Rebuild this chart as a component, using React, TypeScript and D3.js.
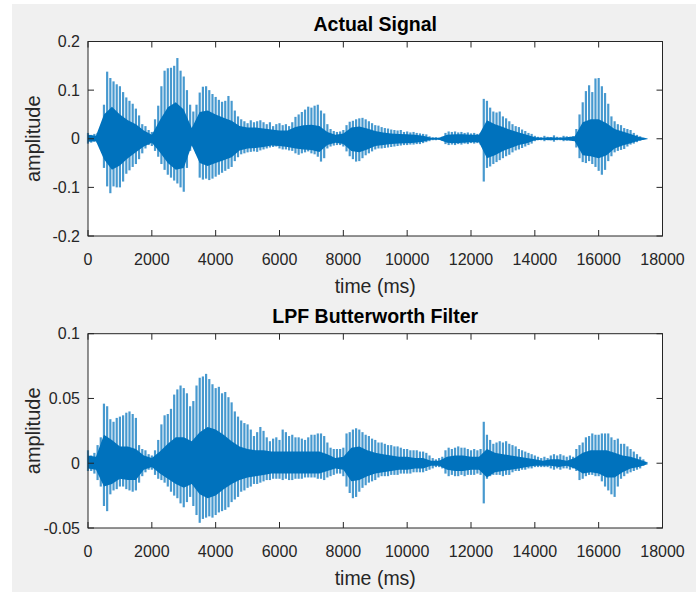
import React, { useEffect, useRef } from "react";
import * as d3 from "d3";

const width = 696;
const height = 592;
const plotLeft = 88;
const plotRight = 662.5;
const STEP = 100; // ms between spike envelope samples
const CORE_STEP = 250; // ms between dense-core envelope samples

const xTicks = [0, 2000, 4000, 6000, 8000, 10000, 12000, 14000, 16000, 18000];
const actualYTicks = [-0.2, -0.1, 0, 0.1, 0.2];
const lpfYTicks = [-0.05, 0, 0.05, 0.1];

// Actual Signal: peak envelope every 100 ms (0 .. 17500 ms)
const actualUpper = [
  0.012, 0.008, 0.01, 0.012, 0.015, 0.07, 0.138, 0.125, 0.118, 0.112,
  0.108, 0.096, 0.085, 0.078, 0.072, 0.062, 0.048, 0.03, 0.026, 0.018,
  0.014, 0.04, 0.068, 0.108, 0.14, 0.145, 0.146, 0.15, 0.166, 0.14,
  0.128, 0.1, 0.07, 0.056, 0.07, 0.095, 0.107, 0.108, 0.1, 0.092,
  0.086, 0.08, 0.076, 0.078, 0.088, 0.078, 0.058, 0.046, 0.04, 0.036,
  0.032, 0.038, 0.034, 0.036, 0.038, 0.034, 0.03, 0.034, 0.026, 0.03,
  0.032, 0.028, 0.03, 0.026, 0.034, 0.045, 0.05, 0.055, 0.06, 0.066,
  0.064, 0.068, 0.07, 0.058, 0.052, 0.03, 0.02, 0.016, 0.014, 0.015,
  0.018, 0.028, 0.035, 0.037, 0.04, 0.042, 0.043, 0.04, 0.036, 0.032,
  0.028, 0.027, 0.024, 0.022, 0.021, 0.019, 0.018, 0.017, 0.018, 0.014,
  0.015, 0.013, 0.014, 0.012, 0.011, 0.01, 0.009, 0.005, 0.003, 0.003,
  0.002, 0.004, 0.012, 0.015, 0.014, 0.015, 0.013, 0.014, 0.012, 0.013,
  0.011, 0.012, 0.01, 0.012, 0.082, 0.078, 0.064, 0.056, 0.054, 0.056,
  0.046, 0.042, 0.036, 0.03, 0.026, 0.024, 0.019, 0.016, 0.012, 0.01,
  0.006, 0.004, 0.003, 0.006, 0.004, 0.003, 0.007, 0.004, 0.003, 0.006,
  0.005, 0.004, 0.005, 0.02, 0.05, 0.075, 0.098, 0.11, 0.096, 0.124,
  0.125, 0.108, 0.094, 0.072, 0.046, 0.036, 0.03, 0.028, 0.022, 0.02,
  0.018, 0.012, 0.008, 0.005, 0.002, 0.001,
];
const actualLower = [
  -0.01, -0.008, -0.006, -0.008, -0.012, -0.06, -0.098, -0.112, -0.098, -0.1,
  -0.1, -0.088, -0.072, -0.065, -0.058, -0.052, -0.042, -0.03, -0.02, -0.013,
  -0.015, -0.025, -0.037, -0.052, -0.064, -0.074, -0.08, -0.086, -0.092, -0.1,
  -0.109, -0.06, -0.025, -0.012, -0.03, -0.08, -0.084, -0.082, -0.085, -0.082,
  -0.078, -0.074, -0.07, -0.066, -0.062, -0.058, -0.046, -0.038, -0.032, -0.03,
  -0.028, -0.027, -0.026, -0.027, -0.024, -0.022, -0.02, -0.018, -0.017, -0.016,
  -0.02, -0.022, -0.022, -0.024, -0.025, -0.03, -0.033, -0.03, -0.028, -0.026,
  -0.03, -0.032, -0.037, -0.047, -0.04, -0.02, -0.016, -0.014, -0.013, -0.013,
  -0.016, -0.026, -0.036, -0.042, -0.047, -0.046, -0.04, -0.034, -0.03, -0.026,
  -0.022, -0.02, -0.02, -0.019, -0.018, -0.017, -0.016, -0.015, -0.014, -0.013,
  -0.013, -0.012, -0.012, -0.011, -0.011, -0.009, -0.007, -0.005, -0.003, -0.003,
  -0.002, -0.004, -0.011, -0.013, -0.012, -0.013, -0.011, -0.012, -0.01, -0.011,
  -0.009, -0.01, -0.009, -0.012, -0.088, -0.06, -0.057, -0.052, -0.048, -0.044,
  -0.04, -0.036, -0.033, -0.028, -0.024, -0.022, -0.019, -0.016, -0.013, -0.01,
  -0.005, -0.003, -0.003, -0.005, -0.003, -0.003, -0.006, -0.003, -0.003, -0.005,
  -0.004, -0.003, -0.004, -0.018, -0.04, -0.048, -0.05, -0.046, -0.052, -0.058,
  -0.066, -0.074, -0.064, -0.046, -0.036, -0.028, -0.025, -0.023, -0.021, -0.016,
  -0.012, -0.01, -0.007, -0.004, -0.002, -0.001,
];
// dense core of the waveform, every 250 ms
const actualCoreUp = [
  0.008, 0.006, 0.05, 0.066, 0.05, 0.038, 0.03, 0.017, 0.008, 0.038,
  0.065, 0.075, 0.06, 0.022, 0.055, 0.058, 0.05, 0.043, 0.037, 0.026,
  0.023, 0.023, 0.021, 0.019, 0.017, 0.017, 0.024, 0.028, 0.029, 0.026,
  0.014, 0.008, 0.011, 0.023, 0.025, 0.021, 0.016, 0.013, 0.011, 0.01,
  0.009, 0.008, 0.006, 0.002, 0.002, 0.008, 0.009, 0.009, 0.008, 0.008,
  0.038, 0.03, 0.024, 0.018, 0.013, 0.008, 0.003, 0.002, 0.003, 0.002,
  0.003, 0.005, 0.034, 0.04, 0.04, 0.032, 0.02, 0.015, 0.01, 0.004,
  0.001,
];
const actualCoreLo = [
  -0.006, -0.005, -0.042, -0.064, -0.055, -0.04, -0.028, -0.016, -0.008, -0.028,
  -0.05, -0.064, -0.06, -0.014, -0.05, -0.056, -0.05, -0.044, -0.038, -0.024,
  -0.02, -0.019, -0.017, -0.014, -0.015, -0.017, -0.02, -0.022, -0.023, -0.027,
  -0.013, -0.008, -0.011, -0.025, -0.028, -0.022, -0.015, -0.013, -0.011, -0.01,
  -0.009, -0.008, -0.006, -0.002, -0.002, -0.008, -0.009, -0.008, -0.007, -0.007,
  -0.04, -0.034, -0.025, -0.019, -0.013, -0.009, -0.003, -0.002, -0.003, -0.002,
  -0.003, -0.005, -0.034, -0.036, -0.04, -0.034, -0.02, -0.014, -0.009, -0.004,
  -0.001,
];

// LPF Butterworth Filter output
const lpfUpper = [
  0.01, 0.006, 0.008, 0.014, 0.02, 0.046, 0.044, 0.034, 0.032, 0.035,
  0.036, 0.037, 0.039, 0.04, 0.038, 0.035, 0.014, 0.011, 0.01, 0.007,
  0.006, 0.01, 0.018, 0.03, 0.037, 0.038, 0.042, 0.053, 0.057, 0.06,
  0.058, 0.054, 0.044, 0.048, 0.06, 0.066, 0.067, 0.069, 0.065, 0.061,
  0.058, 0.059, 0.054, 0.055, 0.051, 0.047, 0.04, 0.036, 0.033, 0.031,
  0.03, 0.026, 0.021, 0.024, 0.028, 0.025, 0.02, 0.017, 0.019, 0.02,
  0.018, 0.026, 0.024, 0.021, 0.022, 0.02, 0.02, 0.019, 0.018, 0.02,
  0.022, 0.022, 0.023, 0.023, 0.021, 0.016, 0.012, 0.011, 0.011, 0.011,
  0.012, 0.023, 0.024, 0.026, 0.027, 0.026, 0.024, 0.022, 0.021, 0.019,
  0.018, 0.016, 0.016, 0.015, 0.014, 0.014, 0.013, 0.013, 0.012, 0.011,
  0.011, 0.01, 0.01, 0.01, 0.009, 0.009, 0.008, 0.006, 0.004, 0.003,
  0.004, 0.005, 0.01, 0.012, 0.011, 0.012, 0.013, 0.012, 0.012, 0.011,
  0.01, 0.011, 0.01, 0.011, 0.032, 0.022, 0.018, 0.015, 0.016, 0.017,
  0.016, 0.017, 0.015, 0.014, 0.013, 0.011, 0.01, 0.009, 0.008, 0.007,
  0.006, 0.005, 0.004, 0.005, 0.004, 0.006, 0.007, 0.006, 0.007, 0.006,
  0.005, 0.006, 0.005, 0.011, 0.014, 0.016, 0.02, 0.021, 0.023, 0.022,
  0.022, 0.023, 0.023, 0.023, 0.02, 0.018, 0.019, 0.015, 0.015, 0.013,
  0.011, 0.009, 0.007, 0.005, 0.003, 0.001,
];
const lpfLower = [
  -0.006, -0.006, -0.008, -0.013, -0.018, -0.033, -0.037, -0.024, -0.021, -0.02,
  -0.018, -0.018, -0.02, -0.021, -0.022, -0.021, -0.015, -0.01, -0.007, -0.005,
  -0.005, -0.009, -0.012, -0.013, -0.015, -0.018, -0.022, -0.025, -0.027, -0.031,
  -0.034, -0.03, -0.026, -0.033, -0.04, -0.046, -0.043, -0.042, -0.041, -0.042,
  -0.04, -0.038, -0.037, -0.036, -0.034, -0.03, -0.028, -0.026, -0.022, -0.021,
  -0.019, -0.018, -0.016, -0.016, -0.015, -0.014, -0.013, -0.013, -0.012, -0.012,
  -0.012, -0.013, -0.012, -0.013, -0.013, -0.012, -0.012, -0.012, -0.011, -0.011,
  -0.011, -0.011, -0.012, -0.012, -0.013, -0.011, -0.01, -0.009, -0.008, -0.008,
  -0.01, -0.018, -0.023, -0.027, -0.026, -0.022, -0.019, -0.017, -0.015, -0.014,
  -0.013, -0.011, -0.01, -0.01, -0.01, -0.009, -0.009, -0.009, -0.008, -0.008,
  -0.008, -0.008, -0.007, -0.007, -0.007, -0.007, -0.006, -0.005, -0.004, -0.003,
  -0.003, -0.004, -0.008, -0.01, -0.009, -0.01, -0.01, -0.009, -0.01, -0.009,
  -0.009, -0.009, -0.008, -0.009, -0.031, -0.012, -0.01, -0.009, -0.009, -0.009,
  -0.01, -0.009, -0.009, -0.007, -0.006, -0.006, -0.005, -0.005, -0.004, -0.004,
  -0.003, -0.003, -0.003, -0.003, -0.003, -0.004, -0.005, -0.004, -0.005, -0.004,
  -0.004, -0.005, -0.004, -0.006, -0.013, -0.012, -0.01, -0.009, -0.009, -0.01,
  -0.01, -0.014, -0.018, -0.021, -0.024, -0.026, -0.018, -0.012, -0.01, -0.008,
  -0.007, -0.006, -0.005, -0.004, -0.002, -0.001,
];
const lpfCoreUp = [
  0.006, 0.005, 0.022, 0.018, 0.013, 0.013, 0.011, 0.006, 0.004, 0.009,
  0.015, 0.02, 0.02, 0.017, 0.024, 0.028, 0.026, 0.022, 0.017, 0.013,
  0.011, 0.01, 0.01, 0.009, 0.009, 0.009, 0.009, 0.009, 0.009, 0.009,
  0.007, 0.004, 0.005, 0.012, 0.013, 0.01, 0.008, 0.007, 0.006, 0.005,
  0.005, 0.004, 0.004, 0.002, 0.002, 0.005, 0.006, 0.006, 0.005, 0.005,
  0.011, 0.008, 0.007, 0.006, 0.005, 0.004, 0.003, 0.002, 0.003, 0.003,
  0.002, 0.004, 0.008, 0.01, 0.01, 0.01, 0.008, 0.006, 0.005, 0.003,
  0.001,
];
const lpfCoreLo = [
  -0.004, -0.005, -0.018, -0.016, -0.012, -0.013, -0.013, -0.005, -0.003, -0.008,
  -0.012, -0.016, -0.019, -0.016, -0.024, -0.027, -0.025, -0.02, -0.016, -0.013,
  -0.011, -0.01, -0.009, -0.008, -0.008, -0.008, -0.008, -0.008, -0.008, -0.008,
  -0.006, -0.004, -0.005, -0.014, -0.013, -0.01, -0.008, -0.007, -0.006, -0.005,
  -0.005, -0.004, -0.004, -0.002, -0.002, -0.005, -0.006, -0.006, -0.005, -0.005,
  -0.011, -0.007, -0.006, -0.005, -0.004, -0.003, -0.002, -0.002, -0.002, -0.003,
  -0.002, -0.004, -0.008, -0.007, -0.008, -0.011, -0.011, -0.007, -0.004, -0.003,
  -0.001,
];

const panels = [
  {
    title: "Actual Signal",
    top: 41.5,
    bottom: 236,
    yDomain: [-0.2, 0.2],
    yTicks: actualYTicks,
    upper: actualUpper,
    lower: actualLower,
    coreUp: actualCoreUp,
    coreLo: actualCoreLo,
  },
  {
    title: "LPF Butterworth Filter",
    top: 333.7,
    bottom: 528,
    yDomain: [-0.05, 0.1],
    yTicks: lpfYTicks,
    upper: lpfUpper,
    lower: lpfLower,
    coreUp: lpfCoreUp,
    coreLo: lpfCoreLo,
  },
];

const font = "'Liberation Sans', Arial, Helvetica, sans-serif";
const axisColor = "#262626";
const lineColor = "#0072BD";

export default function App() {
  const ref = useRef<SVGSVGElement>(null);

  useEffect(() => {
    const svg = d3.select(ref.current);
    svg.selectAll("*").remove();

    svg.append("rect").attr("width", width).attr("height", height).attr("fill", "#fff");
    svg
      .append("rect")
      .attr("x", 12)
      .attr("y", 4)
      .attr("width", width - 12)
      .attr("height", height - 4)
      .attr("fill", "#f0f0f0");

    const x = d3.scaleLinear().domain([0, 18000]).range([plotLeft, plotRight]);

    panels.forEach(p => {
      const y = d3.scaleLinear().domain(p.yDomain).range([p.bottom, p.top]);
      const g = svg.append("g");

      g.append("rect")
        .attr("x", plotLeft)
        .attr("y", p.top)
        .attr("width", plotRight - plotLeft)
        .attr("height", p.bottom - p.top)
        .attr("fill", "#fff");

      // light spikes reaching the peak envelope
      g.append("g")
        .attr("stroke", lineColor)
        .attr("stroke-opacity", 0.72)
        .attr("stroke-width", 2.2)
        .selectAll("line")
        .data(p.upper)
        .join("line")
        .attr("x1", (d, i) => x(i * STEP))
        .attr("x2", (d, i) => x(i * STEP))
        .attr("y1", d => y(d))
        .attr("y2", (d, i) => y(p.lower[i]));

      // dense dark core
      const core = d3
        .area<number>()
        .x((d, i) => x(i * CORE_STEP))
        .y0((d, i) => y(p.coreLo[i]))
        .y1(d => y(d));
      g.append("path").datum(p.coreUp).attr("d", core).attr("fill", lineColor);

      // box
      g.append("rect")
        .attr("x", plotLeft)
        .attr("y", p.top)
        .attr("width", plotRight - plotLeft)
        .attr("height", p.bottom - p.top)
        .attr("fill", "none")
        .attr("stroke", axisColor)
        .attr("stroke-width", 1);

      // ticks on all four sides, pointing inward
      const tl = 6;
      g.append("g")
        .attr("stroke", axisColor)
        .selectAll("path")
        .data(xTicks)
        .join("path")
        .attr("d", d => `M${x(d)},${p.bottom}v${-tl}M${x(d)},${p.top}v${tl}`);
      g.append("g")
        .attr("stroke", axisColor)
        .selectAll("path")
        .data(p.yTicks)
        .join("path")
        .attr("d", d => `M${plotLeft},${y(d)}h${tl}M${plotRight},${y(d)}h${-tl}`);

      g.append("g")
        .attr("font-family", font)
        .attr("font-size", 16)
        .attr("fill", axisColor)
        .attr("text-anchor", "middle")
        .selectAll("text")
        .data(xTicks)
        .join("text")
        .attr("x", d => x(d))
        .attr("y", p.bottom + 28.5)
        .text(d => String(d));

      g.append("g")
        .attr("font-family", font)
        .attr("font-size", 16)
        .attr("fill", axisColor)
        .attr("text-anchor", "end")
        .selectAll("text")
        .data(p.yTicks)
        .join("text")
        .attr("x", plotLeft - 8)
        .attr("y", d => y(d))
        .attr("dy", "0.35em")
        .text(d => String(d));

      const cx = (plotLeft + plotRight) / 2;
      const cy = (p.top + p.bottom) / 2;

      g.append("text")
        .attr("x", cx)
        .attr("y", p.top - 10.5)
        .attr("text-anchor", "middle")
        .attr("font-family", font)
        .attr("font-weight", "bold")
        .attr("font-size", 19.5)
        .attr("fill", "#000")
        .text(p.title);

      g.append("text")
        .attr("x", cx)
        .attr("y", p.bottom + 56.5)
        .attr("text-anchor", "middle")
        .attr("font-family", font)
        .attr("font-size", 19.5)
        .attr("fill", axisColor)
        .text("time (ms)");

      g.append("text")
        .attr("transform", `translate(40,${cy}) rotate(-90)`)
        .attr("text-anchor", "middle")
        .attr("font-family", font)
        .attr("font-size", 20)
        .attr("fill", axisColor)
        .text("amplitude");
    });
  }, []);

  return (
    <svg
      ref={ref}
      width={width}
      height={height}
      style={{ position: "absolute", left: 0, top: 0, display: "block" }}
    />
  );
}
